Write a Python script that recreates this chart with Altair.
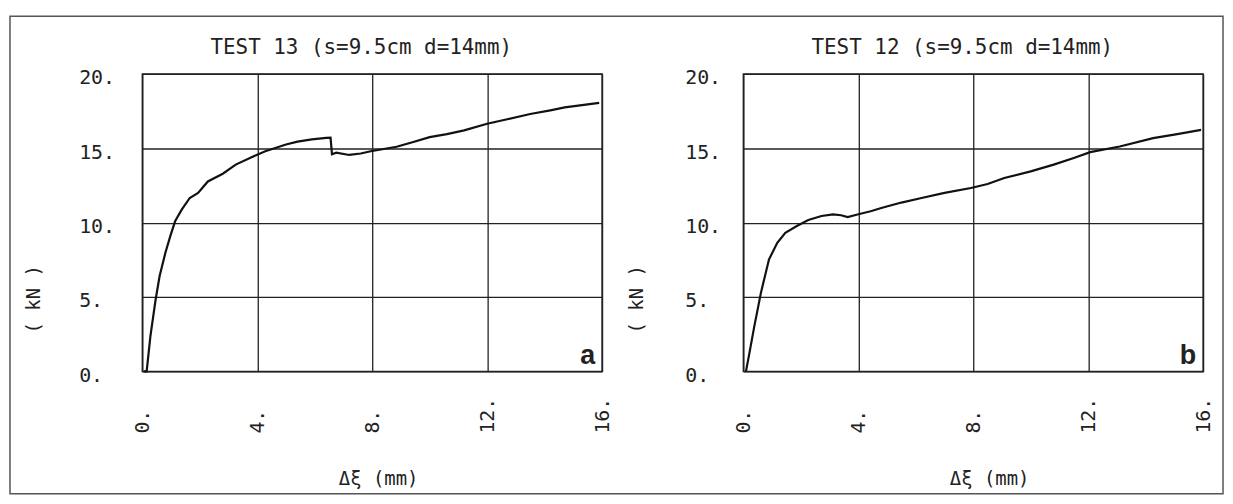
import altair as alt
import pandas as pd

# ---- data ----
x13 = [0.05, 0.15, 0.28, 0.46, 0.6, 0.8, 0.97, 1.14, 1.37, 1.65, 1.94, 2.28, 2.8, 3.25, 3.82,
       4.28, 4.6, 5.0, 5.4, 5.9, 6.4, 6.55, 6.6, 6.75, 7.2, 7.6, 7.95, 8.4, 8.85, 9.4, 10.0,
       10.6, 11.2, 12.0, 12.7, 13.5, 14.2, 14.7, 15.3, 15.9]
y13 = [0.0, 0.0, 2.35, 4.8, 6.4, 7.96, 9.08, 10.09, 10.87, 11.66, 12.0, 12.77, 13.29, 13.9, 14.42,
       14.8, 15.0, 15.25, 15.45, 15.6, 15.7, 15.72, 14.6, 14.7, 14.55, 14.65, 14.8, 14.95, 15.1, 15.4, 15.75,
       15.95, 16.2, 16.65, 16.95, 17.3, 17.55, 17.75, 17.9, 18.05]

x12 = [0.09, 0.21, 0.38, 0.61, 0.89, 1.18, 1.46, 1.86, 2.26, 2.72, 3.12, 3.4, 3.63, 3.97, 4.43,
       4.83, 5.5, 6.2, 7.0, 7.92, 8.5, 9.08, 10.0, 10.8, 11.5, 12.07, 13.1, 14.26, 15.1, 15.93]
y12 = [0.0, 1.23, 3.03, 5.28, 7.52, 8.65, 9.32, 9.77, 10.18, 10.45, 10.55, 10.5, 10.38, 10.55, 10.77,
       11.0, 11.35, 11.66, 12.0, 12.33, 12.6, 13.0, 13.45, 13.9, 14.35, 14.74, 15.12, 15.68, 15.95, 16.24]

titles = ["TEST 13 (s=9.5cm d=14mm)", "TEST 12 (s=9.5cm d=14mm)"]
letters = ["a", "b"]
x_ticks = [0, 4, 8, 12, 16]
y_ticks = [0, 5, 10, 15, 20]
x_label = "Δξ  (mm)"
y_label = "( kN )"

W, H = 462, 299
FONT = "DejaVu Sans Mono"
INK = "#222"


def panel(xs, ys, title, letter, ypad, ytitle_x, xtitle_x, frame=False):
    df = pd.DataFrame({"d": xs, "f": ys})
    x_axis = alt.Axis(
        values=x_ticks, labelExpr="datum.value + '.'", title=x_label,
        labelAngle=270, labelAlign="left", labelBaseline="middle", labelPadding=62,
        ticks=False, tickSize=0, domain=False, grid=True, gridColor=INK, gridWidth=1.3,
        gridOpacity=1, labelFont=FONT, labelFontSize=20, labelColor=INK,
        labelFlush=False, labelOverlap=False,
        titleFont=FONT, titleFontSize=19, titleFontWeight="normal", titleColor=INK,
        titleX=xtitle_x, titleY=108, titleAlign="center", titleBaseline="middle",
    )
    y_axis = alt.Axis(
        values=y_ticks, labelExpr="datum.value + '.'", title=y_label,
        labelAlign="left", labelBaseline="middle", labelPadding=ypad, labelOffset=4,
        ticks=False, tickSize=0, domain=False, grid=True, gridColor=INK, gridWidth=1.3,
        gridOpacity=1, labelFont=FONT, labelFontSize=20, labelColor=INK,
        labelFlush=False, labelOverlap=False,
        titleFont=FONT, titleFontSize=19, titleFontWeight="normal", titleColor=INK,
        titleX=ytitle_x, titleY=226, titleAngle=270, titleAlign="center",
        titleBaseline="middle",
    )
    line = alt.Chart(df).mark_line(color="#111", strokeWidth=2.2).encode(
        x=alt.X("d:Q", scale=alt.Scale(domain=[0, 16], nice=False, zero=False), axis=x_axis),
        y=alt.Y("f:Q", scale=alt.Scale(domain=[0, 20], nice=False, zero=False), axis=y_axis),
    )
    ttl = alt.Chart(pd.DataFrame({"t": [title]})).mark_text(
        font=FONT, fontSize=21, align="center", baseline="middle", color=INK
    ).encode(x=alt.value(220), y=alt.value(-26), text="t:N")
    let = alt.Chart(pd.DataFrame({"t": [letter]})).mark_text(
        font="Liberation Sans", fontWeight="bold", fontSize=27, align="right",
        baseline="alphabetic", color=INK
    ).encode(x=alt.value(W - 7), y=alt.value(H - 7), text="t:N")
    layers = [line, ttl, let]
    if frame:
        fr = alt.Chart(pd.DataFrame({"k": [0]})).mark_rect(
            filled=False, stroke="#555", strokeWidth=1.5
        ).encode(x=alt.value(-133), x2=alt.value(1086), y=alt.value(-58), y2=alt.value(422))
        layers.append(fr)
    return alt.layer(*layers).properties(width=W, height=H)


left = panel(x13, y13, titles[0], letters[0], ypad=64, ytitle_x=-109, xtitle_x=237, frame=True)
right = panel(x12, y12, titles[1], letters[1], ypad=59, ytitle_x=-107, xtitle_x=247)

chart = alt.hconcat(left, right, spacing=142, bounds="flush").properties(
    padding={"left": 0, "top": 5, "right": 0, "bottom": 0}
).configure_view(stroke=INK, strokeWidth=1.5)

chart.save("out.html", embed_options={"renderer": "svg", "actions": False})
